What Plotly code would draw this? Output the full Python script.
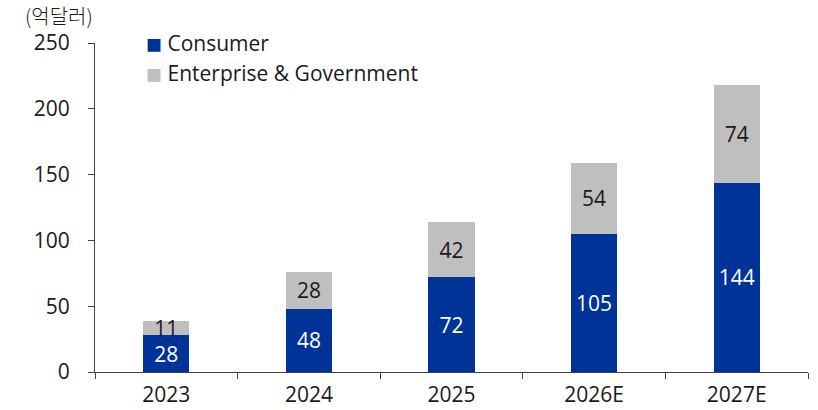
import plotly.graph_objects as go

years = ["2023", "2024", "2025", "2026E", "2027E"]
consumer = [28, 48, 72, 105, 144]
enterprise_gov = [11, 28, 42, 54, 74]
y_ticks = [0, 50, 100, 150, 200, 250]

FONT = "Open Sans, Noto Sans CJK KR"
BLUE = "#003398"
GRAY = "#BFBFBF"
TXT = "#1a1a1a"
SZ = 21
W = 400

fig = go.Figure()
fig.add_trace(go.Bar(
    x=years, y=consumer, name="Consumer",
    marker=dict(color=BLUE, line=dict(width=0)),
    text=[str(v) for v in consumer], textposition="inside",
    insidetextanchor="middle", textangle=0,
    textfont=dict(color="white", size=SZ, family=FONT, weight=W),
))
fig.add_trace(go.Bar(
    x=years, y=enterprise_gov, name="Enterprise & Government",
    marker=dict(color=GRAY, line=dict(width=0)),
    text=[str(v) for v in enterprise_gov], textposition="inside",
    insidetextanchor="middle", textangle=0,
    textfont=dict(color=TXT, size=SZ, family=FONT, weight=W),
))

# compact legend: coloured square glyph followed by the series name
legend_rows = [("Consumer", BLUE, 1.0), ("Enterprise & Government", GRAY, 0.909)]
annotations = [dict(
    text=f"<span style='color:{c};font-size:16px'>■</span> {name}", x=0.069, y=yy,
    xref="paper", yref="paper", xanchor="left", yanchor="middle",
    showarrow=False, font=dict(size=SZ, family=FONT, color=TXT, weight=W),
) for name, c, yy in legend_rows]
annotations.append(dict(
    text="(억달러)", x=-0.1005, y=1.085, xref="paper", yref="paper",
    xanchor="left", yanchor="middle", showarrow=False,
    font=dict(size=20, family="Noto Sans CJK KR", color=TXT, weight=300),
))

fig.update_layout(
    barmode="stack",
    bargap=0.677,
    width=818, height=410,
    margin=dict(l=95, r=10, t=43, b=38),
    paper_bgcolor="white", plot_bgcolor="white",
    font=dict(family=FONT, size=SZ, color=TXT),
    uniformtext=dict(minsize=10, mode="show"),
    showlegend=False,
    annotations=annotations,
)
fig.update_xaxes(
    type="category", showline=True, linecolor="#444444", linewidth=1,
    ticks="outside", tickson="boundaries", ticklen=6, tickcolor="#444444",
    showgrid=False, tickfont=dict(size=SZ, family=FONT, color=TXT, weight=W),
    ticklabelstandoff=4, automargin=False,
)
fig.update_yaxes(
    range=[0, 250], tickvals=y_ticks, showline=True, linecolor="#444444",
    linewidth=1, ticks="outside", ticklen=6, tickcolor="#444444",
    showgrid=False, zeroline=False, automargin=False,
    tickfont=dict(size=SZ, family=FONT, color=TXT, weight=W), ticklabelstandoff=14,
)

fig.write_html("out.html")
